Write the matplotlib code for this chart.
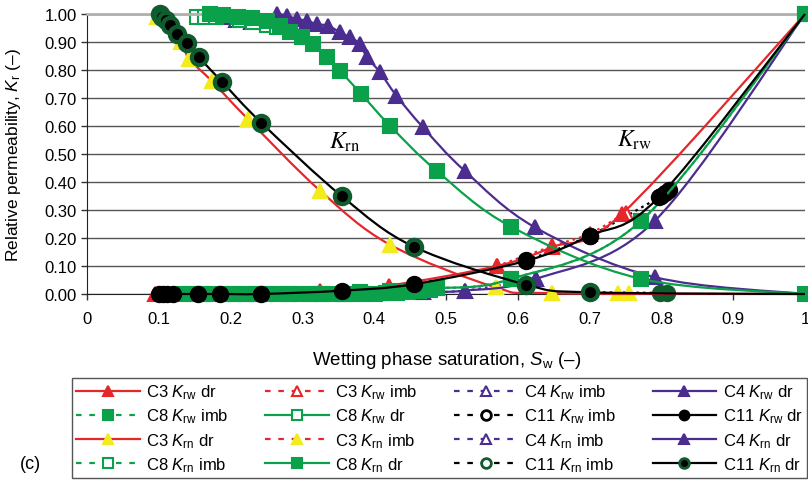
import numpy as np
import matplotlib
matplotlib.use('Agg')
import matplotlib.pyplot as plt
from matplotlib.path import Path
from matplotlib.patches import PathPatch
from matplotlib.lines import Line2D

plt.rcParams.update({
    'font.family': ['Liberation Sans', 'DejaVu Sans'],
    'font.size': 12,
    'mathtext.fontset': 'custom',
    'mathtext.rm': 'Liberation Sans',
    'mathtext.it': 'Liberation Sans:italic',
})

RED = '#E5262B'
GREEN = '#0AA14A'
PURPLE = '#4B2C8F'
YELLOW = '#F4EB1C'
DKGREEN = '#0F5C2E'
DOTS = (0, (1.2, 1.8))

# --- data (Sw, Kr) ---
# C3
c3_krw_dr_sw = [0.095, 0.325, 0.42, 0.571, 0.647, 0.745, 1.0]
c3_krw_dr_kr = [0.0, 0.01, 0.03, 0.10, 0.167, 0.286, 1.0]
c3_krw_imb_sw = [0.571, 0.647, 0.70, 0.75]
c3_krw_imb_kr = [0.10, 0.17, 0.215, 0.29]
c3_krn_dr_sw = [0.098, 0.131, 0.142, 0.174, 0.224, 0.325, 0.422, 0.569, 0.647, 1.0]
c3_krn_dr_kr = [0.99, 0.90, 0.84, 0.76, 0.625, 0.368, 0.176, 0.024, 0.003, 0.0]
c3_krn_imb_sw = [0.647, 0.74, 0.755]
c3_krn_imb_kr = [0.003, 0.003, 0.003]

# C4
c4_krw_dr_sw = [0.227, 0.36, 0.406, 0.468, 0.526, 0.626, 0.791, 1.0]
c4_krw_dr_kr = [0.0, 0.0, 0.004, 0.008, 0.012, 0.054, 0.262, 1.0]
c4_krw_imb_sw = [0.406, 0.468, 0.526, 0.626]
c4_krw_imb_kr = [0.004, 0.008, 0.012, 0.054]
c4_krn_dr_sw = [0.264, 0.278, 0.292, 0.306, 0.32, 0.336, 0.352, 0.366, 0.38,
                0.39, 0.408, 0.431, 0.468, 0.526, 0.624, 0.791, 1.0]
c4_krn_dr_kr = [1.0, 0.994, 0.982, 0.976, 0.964, 0.958, 0.935, 0.917, 0.893,
                0.845, 0.792, 0.708, 0.595, 0.44, 0.238, 0.06, 0.0]
c4_krn_imb_sw = [0.188, 0.208, 0.228]
c4_krn_imb_kr = [0.988, 0.978, 0.97]

# C8
c8_krw_dr_sw = [0.16, 0.20, 0.24, 0.28, 0.32, 0.38, 0.422, 0.487, 0.591, 0.772, 1.0]
c8_krw_dr_kr = [0.0, 0.0, 0.0, 0.0, 0.0, 0.006, 0.01, 0.02, 0.054, 0.262, 1.0]
c8_krw_imb_sw = [0.134, 0.148, 0.161, 0.177, 0.19, 0.206, 0.221, 0.236, 0.25, 0.266,
                 0.281, 0.296, 0.31, 0.327, 0.342, 0.357, 0.371, 0.386, 0.401, 0.417,
                 0.432, 0.447, 0.463, 0.478, 0.487, 0.591, 0.772, 1.0]
c8_krw_imb_kr = [0.0, 0.0, 0.0, 0.0, 0.0, 0.0, 0.0, 0.0, 0.0, 0.0,
                 0.0, 0.0, 0.0, 0.0, 0.0, 0.0, 0.0, 0.0, 0.0, 0.002,
                 0.004, 0.006, 0.01, 0.014, 0.02, 0.054, 0.262, 1.0]
c8_krn_dr_sw = [0.172, 0.19, 0.21, 0.23, 0.25, 0.269, 0.283, 0.299, 0.315, 0.334,
                0.352, 0.382, 0.422, 0.487, 0.591, 0.772, 1.0]
c8_krn_dr_kr = [1.0, 0.995, 0.99, 0.985, 0.975, 0.958, 0.935, 0.917, 0.893, 0.845,
                0.798, 0.714, 0.601, 0.44, 0.24, 0.054, 0.0]
c8_krn_imb_sw = [0.153, 0.164, 0.18, 0.213, 0.231, 0.25, 0.265]
c8_krn_imb_kr = [0.99, 0.99, 0.988, 0.978, 0.97, 0.962, 0.955]

# C11
c11_krw_dr_sw = [0.10, 0.106, 0.112, 0.12, 0.155, 0.185, 0.243, 0.355, 0.455,
                 0.612, 0.70, 0.796, 1.0]
c11_krw_dr_kr = [0.0, 0.0, 0.0, 0.0, 0.0, 0.0, 0.0, 0.012, 0.035,
                 0.119, 0.208, 0.345, 1.0]
c11_krw_imb_sw = [0.612, 0.70, 0.80, 0.805, 0.81]
c11_krw_imb_kr = [0.12, 0.208, 0.35, 0.36, 0.37]
c11_krn_dr_sw = [0.101, 0.105, 0.11, 0.116, 0.125, 0.139, 0.156, 0.188, 0.243,
                 0.355, 0.455, 0.612, 0.70, 1.0]
c11_krn_dr_kr = [1.0, 0.99, 0.978, 0.962, 0.93, 0.895, 0.845, 0.758, 0.611,
                 0.349, 0.169, 0.033, 0.006, 0.0]
c11_krn_imb_sw = [0.70, 0.798, 0.808]
c11_krn_imb_kr = [0.006, 0.004, 0.004]


def smooth_path(xs, ys):
    # excel-like smoothed line: cubic bezier segments through the points
    pts = np.column_stack([xs, ys])
    p = np.vstack([pts[:1], pts, pts[-1:]])
    verts = [pts[0]]
    codes = [Path.MOVETO]
    for i in range(1, len(p) - 2):
        c1 = p[i] + (p[i + 1] - p[i - 1]) / 6
        c2 = p[i + 1] - (p[i + 2] - p[i]) / 6
        verts += [c1, c2, p[i + 1]]
        codes += [Path.CURVE4] * 3
    return Path(verts, codes)


def draw(ax, sw, kr, color, ls, marker, mfc, mec, mew=1.5, ms=10, ends=False, z=3):
    ax.add_patch(PathPatch(smooth_path(sw, kr), fill=False, edgecolor=color,
                           lw=1.6, ls=ls, zorder=z, clip_on=False))
    n = len(sw) if ends else len(sw) - 1
    ax.plot(sw[:n], kr[:n], ls='none', marker=marker, ms=ms, mfc=mfc, mec=mec,
            mew=mew, zorder=z + 0.5, clip_on=False)


fig = plt.figure(figsize=(8.08, 4.81), dpi=100)
ax = fig.add_axes([87 / 808, 1 - 295 / 481, 718 / 808, 280 / 481])

# imbibition series
draw(ax, c3_krw_imb_sw, c3_krw_imb_kr, RED, DOTS, '^', 'white', RED, ends=True, z=2)
draw(ax, c3_krn_imb_sw, c3_krn_imb_kr, RED, DOTS, '^', YELLOW, YELLOW, ends=True, z=2)
draw(ax, c4_krw_imb_sw, c4_krw_imb_kr, PURPLE, DOTS, '^', 'white', PURPLE, ends=True, z=2)
draw(ax, c4_krn_imb_sw, c4_krn_imb_kr, PURPLE, DOTS, '^', 'white', PURPLE, ends=True, z=2)
draw(ax, c8_krn_imb_sw, c8_krn_imb_kr, GREEN, DOTS, 's', 'white', GREEN, ends=True, z=2)
draw(ax, c11_krw_imb_sw, c11_krw_imb_kr, 'black', DOTS, 'o', 'black', 'black', ms=11, ends=True, z=2)
draw(ax, c11_krn_imb_sw, c11_krn_imb_kr, 'black', DOTS, 'o', DKGREEN, DKGREEN, ms=11, ends=True, z=2)

# drainage series
draw(ax, c3_krw_dr_sw, c3_krw_dr_kr, RED, '-', '^', RED, RED, z=3)
draw(ax, c3_krn_dr_sw, c3_krn_dr_kr, RED, '-', '^', YELLOW, YELLOW, z=3)
draw(ax, c4_krw_dr_sw, c4_krw_dr_kr, PURPLE, '-', '^', PURPLE, PURPLE, z=4)
draw(ax, c4_krn_dr_sw, c4_krn_dr_kr, PURPLE, '-', '^', PURPLE, PURPLE, z=4)
draw(ax, c8_krw_dr_sw, c8_krw_dr_kr, GREEN, '-', 's', 'none', GREEN, ends=True, z=5)
draw(ax, c8_krw_imb_sw, c8_krw_imb_kr, GREEN, DOTS, 's', GREEN, GREEN, ends=True, z=5)
draw(ax, c8_krn_dr_sw, c8_krn_dr_kr, GREEN, '-', 's', GREEN, GREEN, ends=True, z=5)
draw(ax, c11_krw_dr_sw, c11_krw_dr_kr, 'black', '-', 'o', 'black', 'black', ms=11, z=6)
draw(ax, c11_krn_dr_sw, c11_krn_dr_kr, 'black', '-', 'o', 'black', DKGREEN, mew=3, ms=11, z=6)

ax.set_xlim(0, 1)
ax.set_ylim(0, 1)
xt = np.arange(0, 1.01, 0.1)
ax.set_xticks(xt)
ax.set_xticklabels(['0', '0.1', '0.2', '0.3', '0.4', '0.5', '0.6', '0.7', '0.8', '0.9', '1'])
ax.set_yticks(xt)
ax.set_yticklabels(['%.2f' % v for v in xt])
ax.tick_params(direction='out', length=4, width=1, color='#333333', labelsize=12)
ax.tick_params(axis='x', pad=8)
ax.grid(axis='y', color='#555555', lw=1)
ax.set_axisbelow(True)
ax.spines['right'].set_visible(False)
ax.spines['top'].set_color('#b0b0b0')
ax.spines['top'].set_linewidth(2)
ax.spines['left'].set_color('#222222')
ax.spines['bottom'].set_color('#222222')

ax.set_ylabel('Relative permeability, $K_\\mathrm{r}$ (\u2013)', fontsize=12.5)
ax.yaxis.set_label_coords(-0.089, 0.5)
ax.set_xlabel('Wetting phase saturation, $S_\\mathrm{w}$ (\u2013)', fontsize=13.5)
ax.xaxis.set_label_coords(0.501, -0.196)

ax.text(0.359, 0.546, '$K_\\mathrm{rn}$', fontsize=17, math_fontfamily='stix',
        ha='center', va='center')
ax.text(0.763, 0.554, '$K_\\mathrm{rw}$', fontsize=17, math_fontfamily='stix',
        ha='center', va='center')


def proxy(color, ls, marker, mfc, mec, mew=1.5):
    if ls != '-':
        ls = (0, (2.5, 3.5))
    return Line2D([], [], color=color, ls=ls, lw=1.6, marker=marker, ms=7,
                  mfc=mfc, mec=mec, mew=mew)


# legend, listed column by column
handles = [
    proxy(RED, '-', '^', RED, RED),
    proxy(GREEN, ':', 's', GREEN, GREEN),
    proxy(RED, '-', '^', YELLOW, YELLOW),
    proxy(GREEN, ':', 's', 'white', GREEN),
    proxy(RED, ':', '^', 'white', RED),
    proxy(GREEN, '-', 's', 'white', GREEN),
    proxy(RED, ':', '^', YELLOW, YELLOW),
    proxy(GREEN, '-', 's', GREEN, GREEN),
    proxy(PURPLE, ':', '^', 'white', PURPLE),
    proxy('black', ':', 'o', 'white', 'black', 2),
    proxy(PURPLE, ':', '^', 'white', PURPLE),
    proxy('black', ':', 'o', 'white', DKGREEN, 2),
    proxy(PURPLE, '-', '^', PURPLE, PURPLE),
    proxy('black', '-', 'o', 'black', 'black'),
    proxy(PURPLE, '-', '^', PURPLE, PURPLE),
    proxy('black', '-', 'o', 'black', DKGREEN, 2),
]
labels = [
    'C3 $K_\\mathrm{rw}$ dr', 'C8 $K_\\mathrm{rw}$ imb', 'C3 $K_\\mathrm{rn}$ dr', 'C8 $K_\\mathrm{rn}$ imb',
    'C3 $K_\\mathrm{rw}$ imb', 'C8 $K_\\mathrm{rw}$ dr', 'C3 $K_\\mathrm{rn}$ imb', 'C8 $K_\\mathrm{rn}$ dr',
    'C4 $K_\\mathrm{rw}$ imb', 'C11 $K_\\mathrm{rw}$ imb', 'C4 $K_\\mathrm{rn}$ imb', 'C11 $K_\\mathrm{rn}$ imb',
    'C4 $K_\\mathrm{rw}$ dr', 'C11 $K_\\mathrm{rw}$ dr', 'C4 $K_\\mathrm{rn}$ dr', 'C11 $K_\\mathrm{rn}$ dr',
]
leg = fig.legend(handles, labels, ncol=4, mode='expand', loc='lower left',
                 bbox_to_anchor=(72 / 808, 2 / 481, 735 / 808, 98 / 481),
                 fontsize=12, handlelength=3.8, handletextpad=0.4,
                 labelspacing=0.33, borderaxespad=0, borderpad=0.25,
                 fancybox=False, edgecolor='#555555', framealpha=1)
leg.get_frame().set_linewidth(1)

fig.text(30 / 808, 1 - 465 / 481, '(c)', fontsize=13, va='center', ha='center')

fig.savefig('out.png', dpi=100)
